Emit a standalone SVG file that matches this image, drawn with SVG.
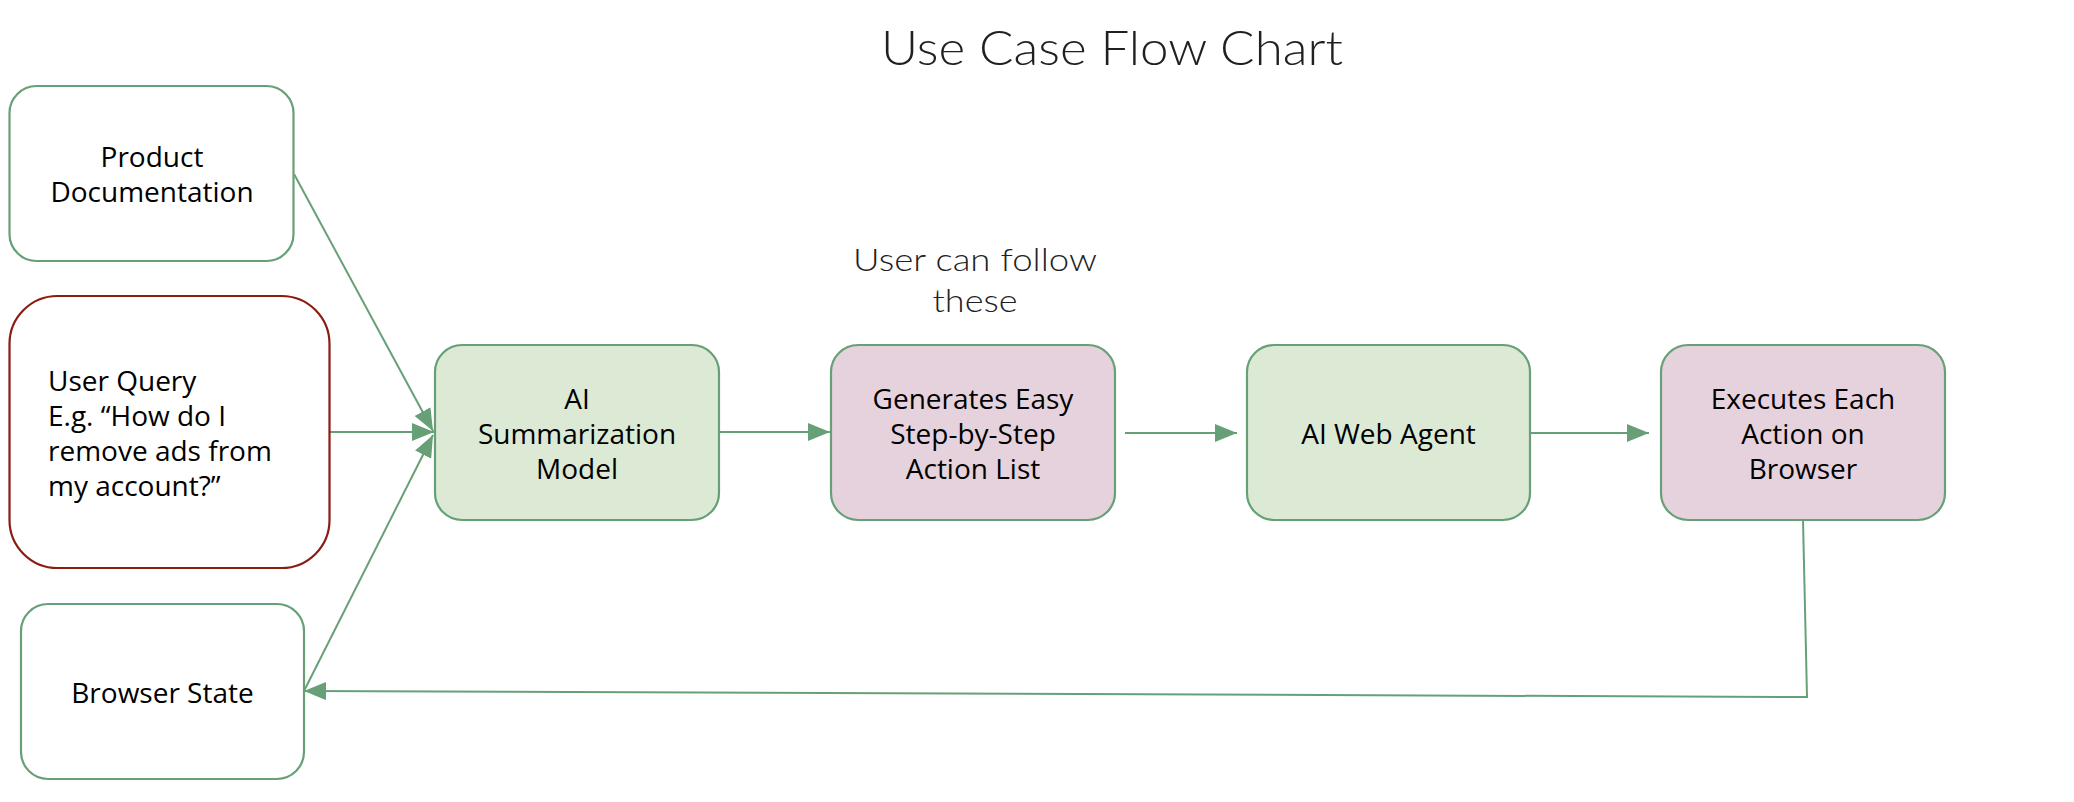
<svg xmlns="http://www.w3.org/2000/svg" width="2074" height="802" viewBox="0 0 2074 802">
<style>
.box{stroke:#67a077;stroke-width:2.2}
.green{fill:#dce9d5}
.pink{fill:#e6d2dd}
.white{fill:#ffffff}
.red{stroke:#8a1d12}
.lbl{font-family:"Open Sans","Liberation Sans",sans-serif;font-size:28px;fill:#000}
.mid{text-anchor:middle}
.geo{font-family:"Lato","Liberation Sans",sans-serif;font-weight:300;fill:#1e2124}
.conn{fill:none;stroke:#67a077;stroke-width:2}
</style>
<defs>
<marker id="ah" markerUnits="userSpaceOnUse" markerWidth="24" markerHeight="20" refX="22" refY="9" orient="auto">
<path d="M0,0 L22,9 L0,18 z" fill="#67a077"/>
</marker>
</defs>
<rect width="2074" height="802" fill="#ffffff"/>
<text class="geo mid" x="1112" y="65" font-size="47" textLength="462" lengthAdjust="spacingAndGlyphs">Use Case Flow Chart</text>
<text class="geo mid" x="975" y="271" font-size="31" textLength="244" lengthAdjust="spacingAndGlyphs">User can follow</text>
<text class="geo mid" x="975" y="312" font-size="31" textLength="85" lengthAdjust="spacingAndGlyphs">these</text>

<g id="connectors">
<line class="conn" x1="294" y1="174" x2="433" y2="431" marker-end="url(#ah)"/>
<line class="conn" x1="330" y1="432" x2="434" y2="432" marker-end="url(#ah)"/>
<line class="conn" x1="304" y1="691" x2="433" y2="435" marker-end="url(#ah)"/>
<line class="conn" x1="719" y1="432" x2="830" y2="432" marker-end="url(#ah)"/>
<line class="conn" x1="1125" y1="433" x2="1237" y2="433" marker-end="url(#ah)"/>
<line class="conn" x1="1530" y1="433" x2="1649" y2="433" marker-end="url(#ah)"/>
<polyline class="conn" points="1803,520 1807,697 304,691" marker-end="url(#ah)"/>
</g>

<g id="product-documentation">
<rect class="box white" x="9.5" y="86" width="284" height="175" rx="27"/>
<text class="lbl mid" x="152" y="167">Product</text>
<text class="lbl mid" x="152" y="202">Documentation</text>
</g>

<g id="user-query">
<rect class="box white red" x="9.5" y="296" width="320" height="272" rx="48"/>
<text class="lbl" x="48" y="391">User Query</text>
<text class="lbl" x="48" y="426">E.g. “How do I</text>
<text class="lbl" x="48" y="461">remove ads from</text>
<text class="lbl" x="48" y="496">my account?”</text>
</g>

<g id="browser-state">
<rect class="box white" x="21" y="604" width="283" height="175" rx="27"/>
<text class="lbl mid" x="162.5" y="703">Browser State</text>
</g>

<g id="ai-summarization">
<rect class="box green" x="435" y="345" width="284" height="175" rx="27"/>
<text class="lbl mid" x="577" y="409">AI</text>
<text class="lbl mid" x="577" y="444">Summarization</text>
<text class="lbl mid" x="577" y="479">Model</text>
</g>

<g id="action-list">
<rect class="box pink" x="831" y="345" width="284" height="175" rx="27"/>
<text class="lbl mid" x="973" y="409">Generates Easy</text>
<text class="lbl mid" x="973" y="444">Step-by-Step</text>
<text class="lbl mid" x="973" y="479">Action List</text>
</g>

<g id="ai-web-agent">
<rect class="box green" x="1247" y="345" width="283" height="175" rx="27"/>
<text class="lbl mid" x="1388.5" y="444">AI Web Agent</text>
</g>

<g id="executes-actions">
<rect class="box pink" x="1661" y="345" width="284" height="175" rx="27"/>
<text class="lbl mid" x="1803" y="409">Executes Each</text>
<text class="lbl mid" x="1803" y="444">Action on</text>
<text class="lbl mid" x="1803" y="479">Browser</text>
</g>
</svg>
